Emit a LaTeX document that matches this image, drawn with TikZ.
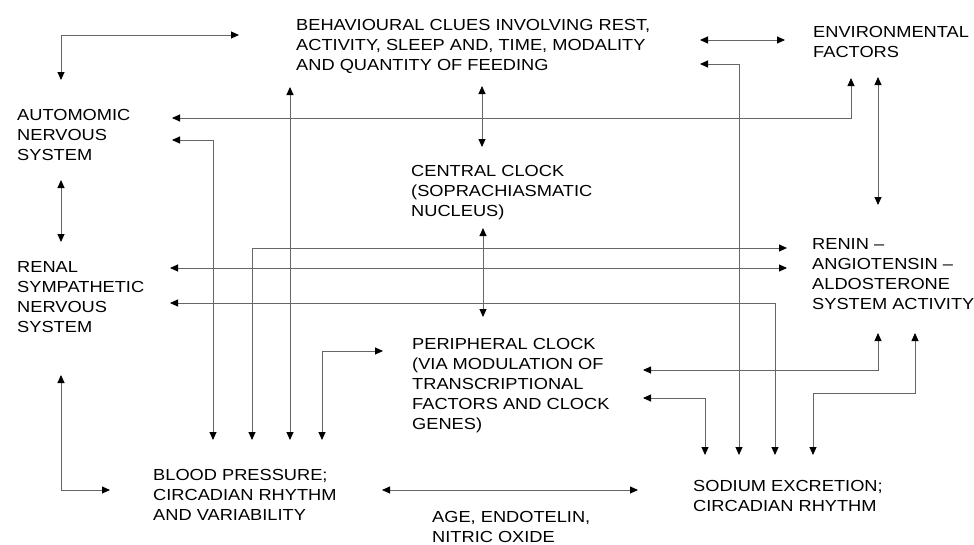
\documentclass[tikz,border=0pt]{standalone}
\usepackage{fontspec}
\setmainfont{Liberation Sans}[FakeStretch=1.14]
\usetikzlibrary{arrows.meta}
\begin{document}
\begin{tikzpicture}[x=1pt,y=-1pt,
  lbl/.style={anchor=base west, inner sep=0pt, align=left, font=\fontsize{16}{20}\selectfont},
  link/.style={draw=black!60, line width=0.9pt, {Triangle[length=8pt,width=7pt,color=black]}-{Triangle[length=8pt,width=7pt,color=black]}}]
\useasboundingbox (0,0) rectangle (974,544);
% nodes (anchored at the baseline of their last line)
\node[lbl] (beh) at (296,70) {BEHAVIOURAL CLUES INVOLVING REST,\\ACTIVITY, SLEEP AND, TIME, MODALITY\\AND QUANTITY OF FEEDING};
\node[lbl] (env) at (813,57.5) {ENVIRONMENTAL\\FACTORS};
\node[lbl] (ans) at (17,160) {AUTOMOMIC\\NERVOUS\\SYSTEM};
\node[lbl] (cen) at (411,216) {CENTRAL CLOCK\\(SOPRACHIASMATIC\\NUCLEUS)};
\node[lbl] (ren) at (17,332) {RENAL\\SYMPATHETIC\\NERVOUS\\SYSTEM};
\node[lbl] (raa) at (812,309) {RENIN --\\ANGIOTENSIN --\\ALDOSTERONE\\SYSTEM ACTIVITY};
\node[lbl] (per) at (412,429) {PERIPHERAL CLOCK\\(VIA MODULATION OF\\TRANSCRIPTIONAL\\FACTORS AND CLOCK\\GENES)};
\node[lbl] (bp) at (153,520) {BLOOD PRESSURE;\\CIRCADIAN RHYTHM\\AND VARIABILITY};
\node[lbl] (sod) at (693,511) {SODIUM EXCRETION;\\CIRCADIAN RHYTHM};
\node[lbl] (age) at (432,542) {AGE, ENDOTELIN,\\NITRIC OXIDE};
% endpoints and bends
\coordinate (ans1) at (61,80);   \coordinate (k1) at (61,35);   \coordinate (beh1) at (239,35);
\coordinate (ans2) at (172,118); \coordinate (k2) at (851,118); \coordinate (env2) at (851,78);
\coordinate (ans3) at (172,140); \coordinate (k3) at (213,140); \coordinate (bp3) at (213,440);
\coordinate (beh4) at (290,87);  \coordinate (bp4) at (290,440);
\coordinate (raa5) at (787,248); \coordinate (k5) at (252,248); \coordinate (bp5) at (252,440);
\coordinate (ren6) at (170,268); \coordinate (raa6) at (787,268);
\coordinate (ren7) at (170,303); \coordinate (k7) at (775,303); \coordinate (sod7) at (775,455);
\coordinate (beh8) at (700,64);  \coordinate (k8) at (739,64);  \coordinate (sod8) at (739,455);
\coordinate (beh9) at (700,40);  \coordinate (env9) at (785,40);
\coordinate (env10) at (878,77); \coordinate (raa10) at (878,205);
\coordinate (beh11) at (482,86); \coordinate (cen11) at (482,147);
\coordinate (cen12) at (483,228); \coordinate (per12) at (483,317);
\coordinate (per13) at (383,351); \coordinate (k13) at (322,351); \coordinate (bp13) at (322,440);
\coordinate (per14) at (643,370); \coordinate (k14) at (878,370); \coordinate (raa14) at (878,333);
\coordinate (per15) at (643,398); \coordinate (k15) at (705,398); \coordinate (sod15) at (705,455);
\coordinate (raa16) at (915,333); \coordinate (k16a) at (915,393); \coordinate (k16b) at (813,393); \coordinate (sod16) at (813,455);
\coordinate (ans17) at (61,180); \coordinate (ren17) at (61,242);
\coordinate (ren18) at (61,375); \coordinate (k18) at (61,490); \coordinate (bp18) at (110,490);
\coordinate (bp19) at (382,490); \coordinate (sod19) at (638,490);
% connectors
\draw[link] (ans1) -- (k1) -- (beh1);
\draw[link] (ans2) -- (k2) -- (env2);
\draw[link] (ans3) -- (k3) -- (bp3);
\draw[link] (beh4) -- (bp4);
\draw[link] (raa5) -- (k5) -- (bp5);
\draw[link] (ren6) -- (raa6);
\draw[link] (ren7) -- (k7) -- (sod7);
\draw[link] (beh8) -- (k8) -- (sod8);
\draw[link] (beh9) -- (env9);
\draw[link] (env10) -- (raa10);
\draw[link] (beh11) -- (cen11);
\draw[link] (cen12) -- (per12);
\draw[link] (per13) -- (k13) -- (bp13);
\draw[link] (per14) -- (k14) -- (raa14);
\draw[link] (per15) -- (k15) -- (sod15);
\draw[link] (raa16) -- (k16a) -- (k16b) -- (sod16);
\draw[link] (ans17) -- (ren17);
\draw[link] (ren18) -- (k18) -- (bp18);
\draw[link] (bp19) -- (sod19);
\end{tikzpicture}
\end{document}
